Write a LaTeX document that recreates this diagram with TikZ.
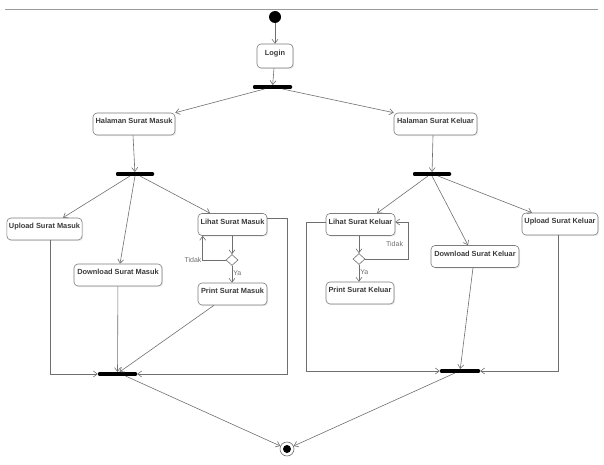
\documentclass[tikz,border=0pt]{standalone}
\usepackage{fontspec}
\setmainfont{Liberation Sans}
\usetikzlibrary{arrows.meta,shapes.geometric,shadows}
\definecolor{edge}{HTML}{6F6F6F}
\definecolor{frame}{HTML}{7C7C7C}
\definecolor{label}{HTML}{3A3A3A}
\definecolor{hair}{HTML}{9A9A9A}

\begin{document}
\begin{tikzpicture}[x=1pt,y=-1pt,
  act/.style={draw=frame,line width=0.6pt,fill=white,rounded corners=4pt,minimum height=22pt,inner xsep=2pt,text height=5pt,text depth=6pt,font=\bfseries\fontsize{7.4}{8}\selectfont,text=label,drop shadow={opacity=0.15,shadow xshift=1.2pt,shadow yshift=-1.2pt}},
  bar/.style={fill=black,rounded corners=1pt,minimum height=3.6pt,inner sep=0pt},
  dot/.style={circle,fill=black,inner sep=0pt,minimum size=12pt},
  choice/.style={diamond,draw=edge,fill=white,line width=0.6pt,inner sep=0pt,minimum width=12pt,minimum height=11pt},
  guard/.style={font=\fontsize{7}{8}\selectfont,text=edge,inner sep=1pt},
  arr/.style={-{Straight Barb[length=4pt,width=6pt]},draw=edge,line width=0.6pt}]
\useasboundingbox (0,0) rectangle (604,465);
\draw[hair,line width=1pt] (5,10) -- (598,10);
\node[dot] (start) at (275,17) {};
\node[act,minimum width=36pt,minimum height=24pt] (login) at (275,56) {Login};
\node[bar,minimum width=39pt] (fork) at (272.5,87) {};
\node[act,minimum width=82pt] (halM) at (134,124) {Halaman Surat Masuk};
\node[act,minimum width=83pt] (halK) at (435.5,124) {Halaman Surat Keluar};
\node[bar,minimum width=38pt] (forkM) at (135,174) {};
\node[bar,minimum width=38pt] (forkK) at (432,174) {};
\node[act,minimum width=75pt] (upM) at (44.5,229) {Upload Surat Masuk};
\node[act,minimum width=88pt] (dlM) at (118,275) {Download Surat Masuk};
\node[act,minimum width=69pt] (lhM) at (232.5,224.5) {Lihat Surat Masuk};
\node[choice] (decM) at (232,260) {};
\node[act,minimum width=69pt] (prM) at (232.5,294) {Print Surat Masuk};
\node[act,minimum width=69pt] (lhK) at (360.5,224.5) {Lihat Surat Keluar};
\node[choice] (decK) at (359,259) {};
\node[act,minimum width=68pt] (prK) at (360,293) {Print Surat Keluar};
\node[act,minimum width=88pt] (dlK) at (475,256.5) {Download Surat Keluar};
\node[act,minimum width=76pt] (upK) at (560,224) {Upload Surat Keluar};
\node[bar,minimum width=39pt] (joinM) at (117.5,374) {};
\node[bar,minimum width=40pt] (joinK) at (460,371) {};
\node[circle,draw=edge,fill=white,line width=0.6pt,minimum size=14pt,inner sep=0pt] (final) at (287,449) {};
\node[dot,minimum size=8pt] (finalDot) at (final) {};
\draw[arr] (start) -- (login);
\draw[arr] (login) -- (fork);
\draw[arr] ([xshift=-8pt]fork.south) -- (halM.north east);
\draw[arr] ([xshift=10pt]fork.south) -- (halK.north west);
\draw[arr] ([xshift=-1pt]halM.south) -- (forkM);
\draw[arr] ([xshift=-2.5pt]halK.south) -- (forkK);
\draw[arr] ([xshift=-5pt]forkM.south) -- ([xshift=18.5pt]upM.north);
\draw[arr] (forkM.south) -- ([xshift=2pt]dlM.north);
\draw[arr] ([xshift=5pt]forkM.south) -- ([xshift=-22.5pt]lhM.north);
\draw[arr] ([xshift=-4pt]forkK.south) -- ([xshift=16.5pt]lhK.north);
\draw[arr] (forkK.south) -- ([xshift=-7pt]dlK.north);
\draw[arr] ([xshift=6pt]forkK.south) -- ([xshift=-28pt]upK.north);
\draw[arr] (lhM.south -| decM) -- (decM);
\draw[arr] (decM) -- node[guard,right,pos=0.45]{Ya} (prM.north -| decM);
\draw[arr] (decM.west) -- ++(-23,0) node[guard,left]{Tidak} coordinate (tM) -- (tM |- lhM.south);
\draw[arr] (lhK.south -| decK) -- (decK);
\draw[arr] (decK) -- node[guard,right,pos=0.45]{Ya} (prK.north -| decK);
\draw[arr] (decK.east) -- ++(43,0) coordinate (tK) -- node[guard,left=4pt,pos=0.4]{Tidak} ([yshift=2.5pt]tK |- lhK.east) -- ([yshift=2.5pt]lhK.east);
\draw[arr] ([xshift=5.5pt]upM.south) |- (joinM.west);
\draw[arr] ([yshift=6.5pt]lhM.east) -- ++(20,0) |- (joinM.east);
\draw[arr] (dlM) -- (joinM);
\draw[arr] ([xshift=-18.5pt]prM.south) -- ([xshift=2pt]joinM.north);
\draw[arr] ([yshift=2.5pt]lhK.west) -- ++(-19,0) |- (joinK.west);
\draw[arr] ([xshift=-2pt]upK.south) |- (joinK.east);
\draw[arr] ([xshift=-2pt]dlK.south) -- (joinK);
\draw[arr] ([xshift=8pt]joinM.south) -- (final);
\draw[arr] ([xshift=-5pt]joinK.south) -- (final);
\end{tikzpicture}
\end{document}
